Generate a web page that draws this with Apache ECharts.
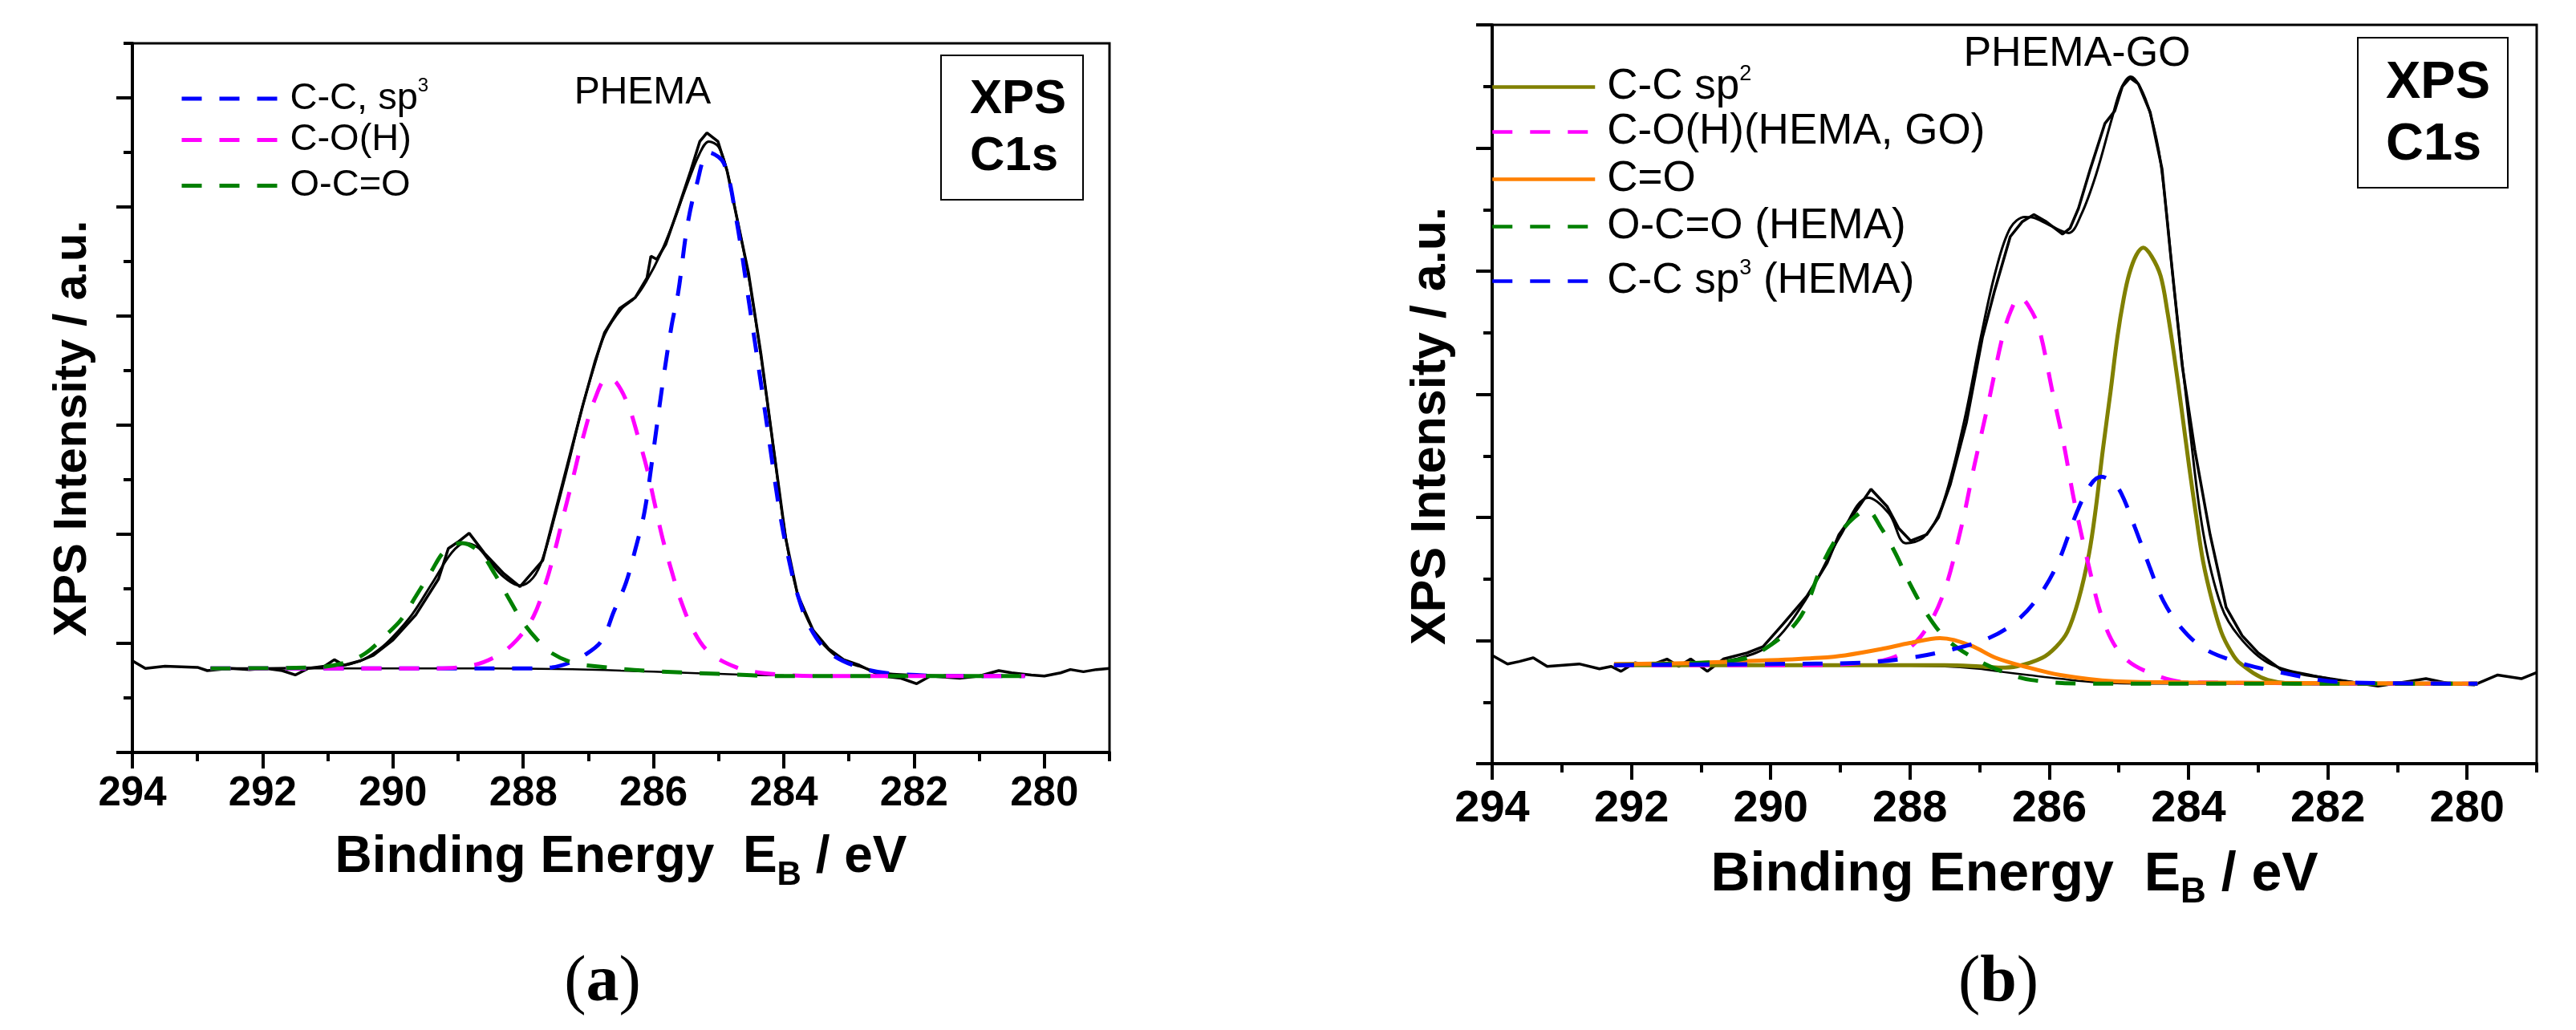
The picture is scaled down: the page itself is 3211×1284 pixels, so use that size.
<!DOCTYPE html>
<html>
<head>
<meta charset="utf-8">
<script src="https://cdn.jsdelivr.net/npm/echarts/dist/echarts.min.js"></script>
<style>
    html, body { margin: 0; padding: 0; background: #fff; }
    #chart { width: 3211px; height: 1284px; }
</style>
</head>
<body>
<div id="chart"></div>
<script type="text/javascript">
    // tick values (binding energy, eV / intensity, a.u.)
    var majorE = [280, 282, 284, 286, 288, 290, 292, 294];
    var minorE = [279, 281, 283, 285, 287, 289, 291, 293];
    var majorYa = [0, 1, 2, 3, 4, 5, 6];
    var minorYa = [0.5, 1.5, 2.5, 3.5, 4.5, 5.5, 6.5];
    var majorYb = [0, 1, 2, 3, 4, 5, 6];
    var minorYb = [0.5, 1.5, 2.5, 3.5, 4.5, 5.5];

    // (a) PHEMA  -  [binding energy, intensity]
    var phemaRaw = [[294.0,0.84],[293.8,0.77],[293.5,0.79],[293.0,0.78],[292.85,0.75],[292.5,0.77],[292.2,0.76],[291.95,0.77],[291.7,0.75],[291.5,0.71],[291.3,0.77],[291.05,0.79],[290.9,0.85],[290.75,0.80],[290.5,0.84],[290.3,0.89],[290.0,1.03],[289.65,1.26],[289.3,1.59],[289.15,1.87],[289.0,1.93],[288.83,2.01],[288.6,1.83],[288.3,1.64],[288.05,1.52],[287.7,1.76],[287.51,2.20],[287.32,2.64],[287.09,3.17],[286.9,3.58],[286.75,3.85],[286.52,4.07],[286.28,4.17],[286.1,4.35],[286.04,4.55],[285.95,4.52],[285.81,4.66],[285.62,4.99],[285.43,5.33],[285.29,5.60],[285.18,5.68],[285.01,5.60],[284.87,5.33],[284.73,4.93],[284.54,4.39],[284.35,3.65],[284.16,2.80],[283.97,1.96],[283.79,1.45],[283.55,1.12],[283.31,0.95],[283.08,0.85],[282.84,0.80],[282.5,0.70],[282.2,0.68],[281.96,0.63],[281.75,0.70],[281.3,0.68],[281.0,0.70],[280.7,0.75],[280.5,0.73],[280.2,0.71],[280.0,0.70],[279.75,0.73],[279.6,0.76],[279.4,0.74],[279.2,0.76],[279.0,0.77]];
    var phemaFit = [[292.8,0.77],[291.0,0.78],[290.5,0.84],[290.2,0.95],[290.0,1.06],[289.7,1.27],[289.4,1.55],[289.1,1.83],[288.9,1.92],[288.7,1.88],[288.5,1.74],[288.3,1.61],[288.05,1.53],[287.85,1.60],[287.7,1.78],[287.5,2.20],[287.3,2.66],[287.1,3.15],[286.9,3.56],[286.75,3.83],[286.5,4.06],[286.28,4.17],[286.1,4.33],[285.9,4.56],[285.7,4.85],[285.5,5.18],[285.3,5.48],[285.15,5.60],[285.0,5.55],[284.87,5.33],[284.73,4.93],[284.54,4.36],[284.35,3.63],[284.16,2.80],[283.97,1.97],[283.79,1.46],[283.55,1.12],[283.31,0.94],[283.08,0.84],[282.84,0.79],[282.5,0.73],[282.0,0.71],[281.0,0.70],[280.3,0.70]];
    var phemaBg = [[292.8,0.77],[288.5,0.77],[287.5,0.765],[287.0,0.76],[286.5,0.75],[286.0,0.74],[285.5,0.73],[285.0,0.72],[284.5,0.71],[284.0,0.705],[283.0,0.70],[280.3,0.70]];
    var phemaCCsp3 = [[292.8,0.77],[289.0,0.77],[288.0,0.77],[287.56,0.78],[287.3,0.82],[287.09,0.88],[286.8,1.02],[286.61,1.29],[286.42,1.56],[286.28,1.86],[286.14,2.20],[286.0,2.77],[285.86,3.38],[285.72,3.92],[285.62,4.22],[285.48,4.83],[285.34,5.20],[285.15,5.50],[284.92,5.40],[284.73,4.89],[284.54,4.15],[284.35,3.38],[284.21,2.80],[284.07,2.23],[283.93,1.79],[283.79,1.45],[283.6,1.15],[283.31,0.92],[282.84,0.78],[282.3,0.72],[281.0,0.70],[280.3,0.70]];
    var phemaCOH = [[292.8,0.77],[290.0,0.77],[289.4,0.77],[288.77,0.80],[288.39,0.89],[288.1,1.03],[287.84,1.25],[287.65,1.56],[287.51,1.86],[287.37,2.20],[287.23,2.53],[287.09,2.87],[286.9,3.24],[286.71,3.43],[286.57,3.39],[286.38,3.17],[286.24,2.90],[286.1,2.60],[286.0,2.33],[285.86,1.96],[285.72,1.66],[285.58,1.39],[285.39,1.12],[285.15,0.92],[284.73,0.78],[284.35,0.73],[283.5,0.70],[280.3,0.70]];
    var phemaOCO = [[292.8,0.77],[291.2,0.78],[290.75,0.82],[290.42,0.91],[290.1,1.08],[289.87,1.22],[289.65,1.43],[289.43,1.64],[289.2,1.85],[288.94,1.92],[288.66,1.83],[288.44,1.64],[288.22,1.41],[288.0,1.19],[287.78,1.03],[287.56,0.91],[287.23,0.82],[286.9,0.79],[286.13,0.75],[285.0,0.72],[284.0,0.70],[280.3,0.70]];

    // (b) PHEMA-GO
    var goRaw = [[294.0,0.88],[293.78,0.81],[293.61,0.83],[293.41,0.86],[293.21,0.79],[292.98,0.80],[292.75,0.81],[292.46,0.77],[292.29,0.79],[292.15,0.75],[291.95,0.82],[291.72,0.80],[291.49,0.85],[291.32,0.79],[291.15,0.85],[290.91,0.75],[290.68,0.85],[290.34,0.90],[290.11,0.95],[289.83,1.13],[289.48,1.36],[289.19,1.63],[289.02,1.86],[288.73,2.09],[288.56,2.23],[288.33,2.09],[288.16,1.91],[287.99,1.81],[287.76,1.86],[287.59,2.00],[287.42,2.27],[287.19,2.77],[286.96,3.46],[286.79,3.83],[286.56,4.28],[286.39,4.40],[286.22,4.46],[286.04,4.40],[285.81,4.30],[285.7,4.35],[285.58,4.51],[285.41,4.83],[285.2,5.20],[285.06,5.30],[284.95,5.50],[284.84,5.57],[284.72,5.52],[284.55,5.29],[284.38,4.83],[284.26,4.15],[284.09,3.23],[283.91,2.55],[283.69,1.86],[283.46,1.27],[283.23,1.04],[283.0,0.90],[282.66,0.76],[282.31,0.72],[281.97,0.69],[281.51,0.65],[281.28,0.63],[280.82,0.67],[280.59,0.69],[280.25,0.65],[279.9,0.64],[279.56,0.72],[279.22,0.69],[279.0,0.74]];
    var goFit = [[292.25,0.80],[291.0,0.81],[290.5,0.85],[290.0,0.97],[289.5,1.33],[289.0,1.85],[288.6,2.16],[288.3,2.03],[288.06,1.79],[287.8,1.84],[287.54,2.09],[287.23,2.76],[286.98,3.47],[286.77,4.00],[286.56,4.35],[286.35,4.44],[286.2,4.43],[285.95,4.36],[285.72,4.31],[285.54,4.46],[285.33,4.78],[285.1,5.24],[284.97,5.48],[284.83,5.58],[284.7,5.50],[284.55,5.28],[284.4,4.88],[284.2,3.82],[283.99,2.76],[283.79,1.88],[283.53,1.28],[283.27,1.03],[282.86,0.82],[282.25,0.72],[281.3,0.65],[279.85,0.65]];
    var goBg = [[292.25,0.80],[288.5,0.80],[287.5,0.79],[287.0,0.77],[286.74,0.75],[286.3,0.72],[285.85,0.69],[285.3,0.66],[284.5,0.65],[279.85,0.65]];
    var goCCsp2 = [[292.25,0.80],[289.0,0.80],[288.0,0.80],[287.5,0.80],[287.0,0.79],[286.7,0.78],[286.47,0.79],[286.1,0.86],[285.9,0.95],[285.74,1.07],[285.58,1.33],[285.43,1.70],[285.33,2.08],[285.23,2.55],[285.12,3.02],[285.02,3.47],[284.93,3.78],[284.85,3.98],[284.75,4.13],[284.65,4.19],[284.53,4.12],[284.4,3.96],[284.3,3.66],[284.2,3.29],[284.1,2.88],[283.99,2.41],[283.89,2.01],[283.79,1.64],[283.66,1.32],[283.53,1.07],[283.4,0.92],[283.27,0.82],[282.86,0.68],[282.3,0.65],[279.85,0.65]];
    var goCOH = [[292.25,0.80],[289.5,0.80],[288.67,0.82],[288.21,0.87],[287.85,1.03],[287.54,1.35],[287.28,1.88],[287.08,2.41],[286.87,2.94],[286.67,3.47],[286.55,3.68],[286.43,3.79],[286.3,3.72],[286.15,3.54],[285.95,3.01],[285.79,2.59],[285.64,2.13],[285.43,1.60],[285.23,1.17],[284.97,0.89],[284.61,0.75],[283.99,0.66],[279.85,0.65]];
    var goCO = [[292.25,0.81],[291.0,0.82],[290.0,0.84],[289.3,0.86],[288.93,0.88],[288.42,0.93],[288.0,0.98],[287.57,1.02],[287.13,0.96],[286.77,0.86],[286.36,0.79],[285.84,0.72],[285.07,0.67],[284.0,0.66],[279.85,0.65]];
    var goOCO = [[292.25,0.80],[291.0,0.82],[290.5,0.84],[290.17,0.90],[289.6,1.17],[289.25,1.63],[289.02,1.86],[288.8,2.00],[288.62,2.06],[288.42,1.92],[288.21,1.71],[288.0,1.46],[287.75,1.21],[287.49,1.02],[287.18,0.89],[286.77,0.77],[286.26,0.68],[285.33,0.65],[279.85,0.65]];
    var goCCsp3 = [[292.25,0.80],[290.0,0.81],[288.7,0.82],[287.99,0.86],[287.38,0.93],[286.87,1.02],[286.51,1.14],[286.2,1.32],[285.9,1.60],[285.59,2.06],[285.4,2.27],[285.25,2.33],[285.1,2.29],[284.97,2.20],[284.77,1.92],[284.56,1.60],[284.36,1.32],[284.1,1.10],[283.79,0.94],[283.38,0.84],[282.76,0.75],[281.73,0.66],[279.85,0.65]];

    var FONT = 'Liberation Sans, Arial, sans-serif';
    var DASH = [25, 22];

    var legendText = {
        'C-C, sp3': '{f|C-C, sp}{s|3}',
        'C-O(H)': '{f|C-O(H)}',
        'O-C=O': '{f|O-C=O}',
        'C-C sp2': '{f|C-C sp}{s|2}',
        'C-O(H)(HEMA, GO)': '{f|C-O(H)(HEMA, GO)}',
        'C=O': '{f|C=O}',
        'O-C=O (HEMA)': '{f|O-C=O (HEMA)}',
        'C-C sp3 (HEMA)': '{f|C-C sp}{s|3}{a| (HEMA)}'
    };

    function legendRow(name, left, rowY, w, size, lh, lw) {
        return {
            data: [name],
            left: left,
            top: rowY - lh / 2,
            padding: 0,
            itemWidth: w,
            itemHeight: 14,
            selectedMode: false,
            itemStyle: { opacity: 0 },
            lineStyle: { width: lw },
            formatter: function (n) { return legendText[n]; },
            textStyle: {
                fontFamily: FONT,
                color: '#000',
                rich: {
                    f: { fontFamily: FONT, fontSize: size, lineHeight: lh, padding: [0, 0, 0, 10], color: '#000' },
                    a: { fontFamily: FONT, fontSize: size, lineHeight: lh, color: '#000' },
                    s: { fontFamily: FONT, fontSize: Math.round(size * 0.5), lineHeight: Math.round(size * 0.5), padding: [0, 0, 32, 0], color: '#000' }
                }
            }
        };
    }

    function xAxes(grid, major, labelSize, margin, nameSize, nameGap) {
        return [{
            gridIndex: grid, type: 'value', min: 279, max: 294, inverse: true, position: 'bottom',
            axisLine: { lineStyle: { color: '#000', width: 4 } },
            axisTick: { customValues: major, length: 20, lineStyle: { color: '#000', width: 4 } },
            axisLabel: { customValues: major, fontFamily: FONT, fontSize: labelSize, fontWeight: 'bold', color: '#000', margin: margin },
            splitLine: { show: false },
            name: '{t|Binding Energy  E}{s|B}{t| / eV}',
            nameLocation: 'middle',
            nameGap: nameGap,
            nameTextStyle: {
                rich: {
                    t: { fontFamily: FONT, fontSize: nameSize, fontWeight: 'bold', lineHeight: nameSize, color: '#000' },
                    s: { fontFamily: FONT, fontSize: Math.round(nameSize * 0.65), fontWeight: 'bold', lineHeight: Math.round(nameSize * 0.65), padding: [44, 0, 0, 0], color: '#000' }
                }
            }
        }, {
            gridIndex: grid, type: 'value', min: 279, max: 294, inverse: true, position: 'bottom',
            axisLine: { show: false },
            axisTick: { customValues: minorE, length: 11, lineStyle: { color: '#000', width: 4 } },
            axisLabel: { show: false },
            splitLine: { show: false }
        }];
    }

    function yAxes(grid, max, major, minor) {
        return [{
            gridIndex: grid, type: 'value', min: 0, max: max, position: 'left',
            axisLine: { show: true, lineStyle: { color: '#000', width: 4 } },
            axisTick: { show: true, customValues: major, length: 20, lineStyle: { color: '#000', width: 4 } },
            axisLabel: { show: false },
            splitLine: { show: false }
        }, {
            gridIndex: grid, type: 'value', min: 0, max: max, position: 'left',
            axisLine: { show: false },
            axisTick: { show: true, customValues: minor, length: 11, lineStyle: { color: '#000', width: 4 } },
            axisLabel: { show: false },
            splitLine: { show: false }
        }];
    }

    function line(name, data, axis, color, width, dashed, smooth, z) {
        return {
            name: name, type: 'line', data: data,
            xAxisIndex: axis, yAxisIndex: axis,
            symbol: 'none', showSymbol: false,
            smooth: smooth,
            lineStyle: { color: color, width: width, type: dashed ? DASH : 'solid' },
            itemStyle: { color: color },
            z: z, silent: true, animation: false
        };
    }

    var chart = echarts.init(document.getElementById('chart'), null, { renderer: 'canvas' });

    var option = {
        backgroundColor: '#fff',
        animation: false,
        grid: [
            { left: 165, top: 54, width: 1218, height: 884, show: true, borderColor: '#000', borderWidth: 3 },
            { left: 1860, top: 31, width: 1302, height: 921, show: true, borderColor: '#000', borderWidth: 3 }
        ],
        xAxis: xAxes(0, majorE, 51, 26, 64, 99).concat(xAxes(1, majorE, 56, 29, 68, 105)),
        yAxis: yAxes(0, 6.5, majorYa, minorYa).concat(yAxes(1, 6, majorYb, minorYb)),
        legend: [
            legendRow('C-C, sp3', 224, 123, 120, 47, 56, 5),
            legendRow('C-O(H)', 224, 179, 120, 47, 56, 5),
            legendRow('O-C=O', 224, 236, 120, 47, 56, 5),
            legendRow('C-C sp2', 1858, 109, 128, 53, 60, 4.5),
            legendRow('C-O(H)(HEMA, GO)', 1858, 168, 128, 53, 60, 4.5),
            legendRow('C=O', 1858, 227, 128, 53, 60, 4.5),
            legendRow('O-C=O (HEMA)', 1858, 286, 128, 53, 60, 4.5),
            legendRow('C-C sp3 (HEMA)', 1858, 351, 128, 53, 60, 4.5)
        ],
        graphic: [
            { type: 'text', x: 91, y: 534, rotation: Math.PI / 2,
              style: { text: 'XPS Intensity / a.u.', fontFamily: FONT, fontSize: 58, fontWeight: 'bold', fill: '#000', align: 'center', verticalAlign: 'middle' } },
            { type: 'text', x: 1784, y: 531, rotation: Math.PI / 2,
              style: { text: 'XPS Intensity / a.u.', fontFamily: FONT, fontSize: 61, fontWeight: 'bold', fill: '#000', align: 'center', verticalAlign: 'middle' } },
            { type: 'text', x: 801, y: 116,
              style: { text: 'PHEMA', fontFamily: FONT, fontSize: 48, fill: '#000', align: 'center', verticalAlign: 'middle' } },
            { type: 'text', x: 2589, y: 68,
              style: { text: 'PHEMA-GO', fontFamily: FONT, fontSize: 52, fill: '#000', align: 'center', verticalAlign: 'middle' } },
            { type: 'rect', shape: { x: 1173, y: 69, width: 177, height: 180 },
              style: { fill: '#fff', stroke: '#000', lineWidth: 2 }, z: 10 },
            { type: 'text', x: 1209, y: 124, z: 11,
              style: { text: 'XPS', fontFamily: FONT, fontSize: 60, fontWeight: 'bold', fill: '#000', align: 'left', verticalAlign: 'middle' } },
            { type: 'text', x: 1209, y: 195, z: 11,
              style: { text: 'C1s', fontFamily: FONT, fontSize: 60, fontWeight: 'bold', fill: '#000', align: 'left', verticalAlign: 'middle' } },
            { type: 'rect', shape: { x: 2939, y: 47, width: 187, height: 187 },
              style: { fill: '#fff', stroke: '#000', lineWidth: 2 }, z: 10 },
            { type: 'text', x: 2974, y: 104, z: 11,
              style: { text: 'XPS', fontFamily: FONT, fontSize: 65, fontWeight: 'bold', fill: '#000', align: 'left', verticalAlign: 'middle' } },
            { type: 'text', x: 2974, y: 181, z: 11,
              style: { text: 'C1s', fontFamily: FONT, fontSize: 65, fontWeight: 'bold', fill: '#000', align: 'left', verticalAlign: 'middle' } },
            { type: 'text', x: 751, y: 1226,
              style: { text: '{p|(}{b|a}{p|)}', align: 'center', verticalAlign: 'middle',
                       rich: { p: { fontFamily: 'Liberation Serif, Times New Roman, serif', fontSize: 82, fill: '#000' },
                               b: { fontFamily: 'Liberation Serif, Times New Roman, serif', fontSize: 82, fontWeight: 'bold', fill: '#000' } } } },
            { type: 'text', x: 2491, y: 1226,
              style: { text: '{p|(}{b|b}{p|)}', align: 'center', verticalAlign: 'middle',
                       rich: { p: { fontFamily: 'Liberation Serif, Times New Roman, serif', fontSize: 82, fill: '#000' },
                               b: { fontFamily: 'Liberation Serif, Times New Roman, serif', fontSize: 82, fontWeight: 'bold', fill: '#000' } } } }
        ],
        series: [
            line('PHEMA experimental', phemaRaw, 0, '#000', 3.5, false, false, 2),
            line('PHEMA envelope', phemaFit, 0, '#000', 3, false, 0.35, 2),
            line('PHEMA background', phemaBg, 0, '#000', 2.5, false, 0.35, 2),
            line('C-C, sp3', phemaCCsp3, 0, '#0000ff', 5, true, 0.35, 3),
            line('C-O(H)', phemaCOH, 0, '#ff00ff', 5, true, 0.35, 3),
            line('O-C=O', phemaOCO, 0, '#008000', 5, true, 0.35, 3),

            line('PHEMA-GO experimental', goRaw, 2, '#000', 3.5, false, false, 2),
            line('PHEMA-GO envelope', goFit, 2, '#000', 3, false, 0.35, 2),
            line('PHEMA-GO background', goBg, 2, '#000', 2.5, false, 0.35, 2),
            line('C-C sp2', goCCsp2, 2, '#808000', 5, false, 0.35, 3),
            line('C-O(H)(HEMA, GO)', goCOH, 2, '#ff00ff', 5, true, 0.35, 3),
            line('C=O', goCO, 2, '#ff8000', 5, false, 0.35, 3),
            line('O-C=O (HEMA)', goOCO, 2, '#008000', 5, true, 0.35, 3),
            line('C-C sp3 (HEMA)', goCCsp3, 2, '#0000ff', 5, true, 0.35, 3)
        ]
    };

    chart.setOption(option);
</script>
</body>
</html>
